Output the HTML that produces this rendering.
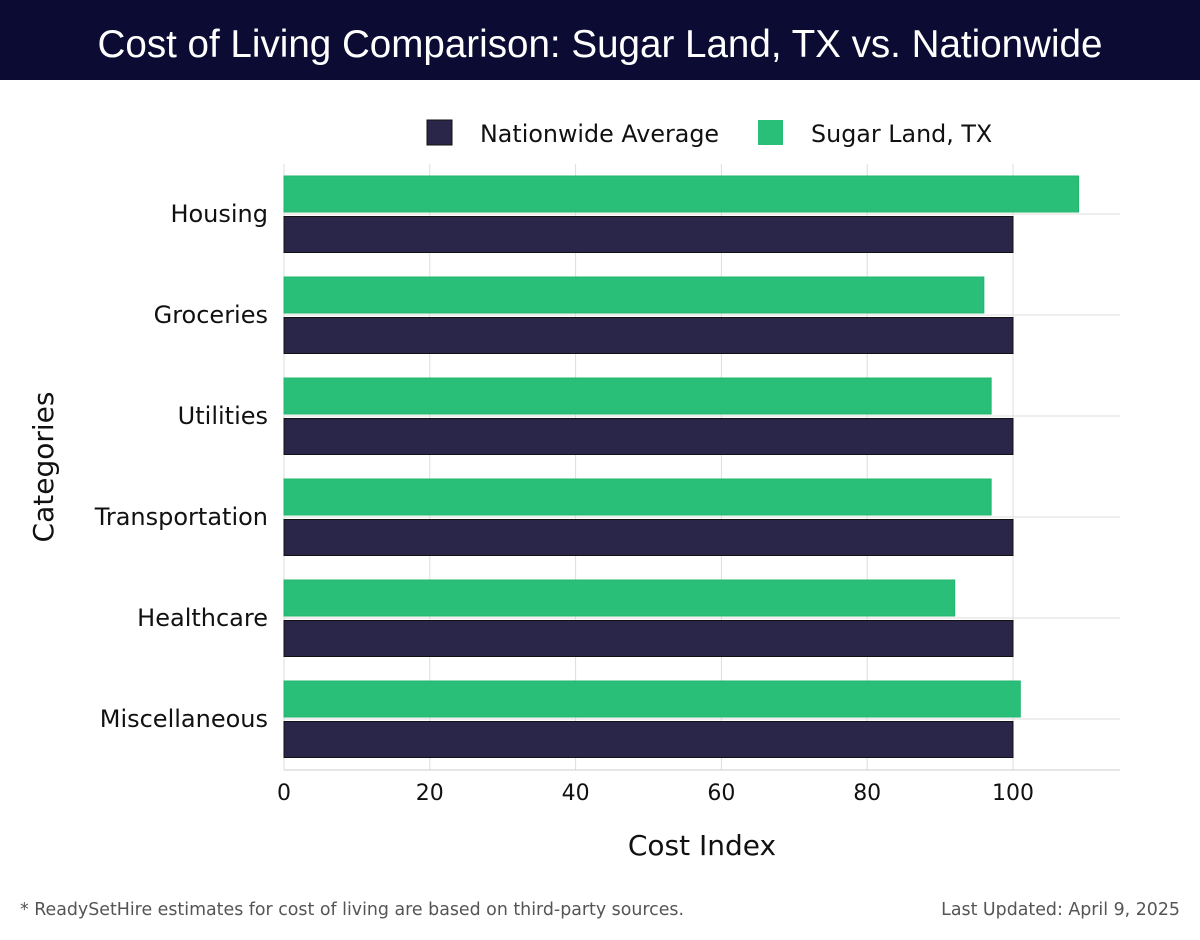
<!DOCTYPE html>
<html><head><meta charset="utf-8"><style>
body{margin:0;width:1200px;height:940px;background:#fff;overflow:hidden;font-family:"DejaVu Sans","Liberation Sans",sans-serif;}
#hdr{position:absolute;left:0;top:0;width:1200px;height:80px;background:#0b0b33;color:#fff;font-size:38.6px;text-align:center;line-height:90px;font-family:"Liberation Sans",sans-serif;}
.foot{position:absolute;top:900px;font-size:17.4px;color:#555;font-family:"DejaVu Sans",sans-serif;}
</style></head><body>
<div id="hdr">Cost of Living Comparison: Sugar Land, TX vs. Nationwide</div>
<svg id="chart" width="1200" height="940" style="position:absolute;left:0;top:0"></svg>
<div class="foot" style="left:20px">* ReadySetHire estimates for cost of living are based on third-party sources.</div>
<div class="foot" style="right:20px">Last Updated: April 9, 2025</div>
<script>
const categories=["Housing","Groceries","Utilities","Transportation","Healthcare","Miscellaneous"];
const nationwide=[100,100,100,100,100,100];
const sugarLand=[109,96,97,97,92,101];
const xTicks=[0,20,40,60,80,100];
const NS="http://www.w3.org/2000/svg";
const svg=document.getElementById('chart');
const x0=284,xPer=7.29,plotTop=164,plotBot=770,plotRight=1120,band=101,firstCenter=214;
const X=v=>x0+v*xPer;
const Yc=i=>firstCenter+i*band;
function mk(t,a,txt){const e=document.createElementNS(NS,t);for(const k in a)e.setAttribute(k,a[k]);if(txt!=null)e.textContent=txt;svg.appendChild(e);return e;}
xTicks.forEach(v=>{
 const g=mk('line',{x1:X(v),x2:X(v),y1:plotTop,y2:plotBot,stroke:'#ddd','stroke-width':1});
 
 
 const t=mk('text',{x:X(v),y:800,'text-anchor':'middle','font-size':22,fill:'#111'},v);
 
 
});
categories.forEach((c,i)=>{
 const g=mk('line',{x1:x0,x2:plotRight,y1:Yc(i),y2:Yc(i),stroke:'#ddd','stroke-width':1});
 
 
 const s=mk('rect',{x:x0,y:Yc(i)-38,width:X(sugarLand[i])-x0,height:36,fill:'#2abf78',stroke:'#22b46e','stroke-width':1});
 
 
 const n=mk('rect',{x:x0,y:Yc(i)+2.5,width:X(nationwide[i])-x0,height:36,fill:'#2a2649',stroke:'#111','stroke-width':1});
 
 
 const t=mk('text',{x:268,y:Yc(i)+8,'text-anchor':'end','font-size':24,fill:'#111'},c);
 
 
});
const ax=mk('line',{x1:x0,x2:plotRight,y1:plotBot,y2:plotBot,stroke:'#ccc'});


const xt=mk('text',{x:702,y:855,'text-anchor':'middle','font-size':28,fill:'#111'},'Cost Index');


const yt=mk('text',{x:0,y:0,'text-anchor':'middle','font-size':28,fill:'#111',transform:'translate(53,467) rotate(-90)'},'Categories');


const l1=mk('rect',{x:427,y:120,width:25,height:25,fill:'#2a2649',stroke:'#111'});


const lt1=mk('text',{x:480,y:142,'font-size':23.8,fill:'#111'},'Nationwide Average');


const l2=mk('rect',{x:758,y:120,width:25,height:25,fill:'#2abf78'});


const lt2=mk('text',{x:811,y:142,'font-size':23.8,fill:'#111'},'Sugar Land, TX');


</script>
</body></html>
